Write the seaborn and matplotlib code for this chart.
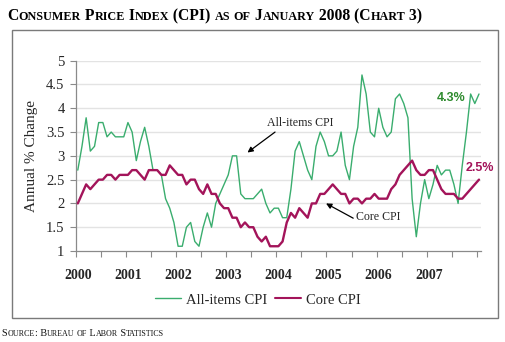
import numpy as np
import pandas as pd
import matplotlib
matplotlib.use("Agg")
import matplotlib.pyplot as plt
from matplotlib.font_manager import FontProperties
from matplotlib.patches import Rectangle
from matplotlib.lines import Line2D
import seaborn as sns

# ---------------- data (monthly, Jan 2000 .. Jan 2008) ----------------
all_items = [
    2.7, 3.2, 3.8, 3.1, 3.2, 3.7, 3.7, 3.4, 3.5, 3.4, 3.4, 3.4,
    3.7, 3.5, 2.9, 3.3, 3.6, 3.2, 2.7, 2.7, 2.6, 2.1, 1.9, 1.6,
    1.1, 1.1, 1.5, 1.6, 1.2, 1.1, 1.5, 1.8, 1.5, 2.0, 2.2, 2.4,
    2.6, 3.0, 3.0, 2.2, 2.1, 2.1, 2.1, 2.2, 2.3, 2.0, 1.8, 1.9,
    1.9, 1.7, 1.7, 2.3, 3.1, 3.3, 3.0, 2.7, 2.5, 3.2, 3.5, 3.3,
    3.0, 3.0, 3.1, 3.5, 2.8, 2.5, 3.2, 3.6, 4.7, 4.3, 3.5, 3.4,
    4.0, 3.6, 3.4, 3.5, 4.2, 4.3, 4.1, 3.8, 2.1, 1.3, 2.0, 2.5,
    2.1, 2.4, 2.8, 2.6, 2.7, 2.7, 2.4, 2.0, 2.8, 3.5, 4.3, 4.1,
    4.3,
]
core = [
    2.0, 2.2, 2.4, 2.3, 2.4, 2.5, 2.5, 2.6, 2.6, 2.5, 2.6, 2.6,
    2.6, 2.7, 2.7, 2.6, 2.5, 2.7, 2.7, 2.7, 2.6, 2.6, 2.8, 2.7,
    2.6, 2.6, 2.4, 2.5, 2.5, 2.3, 2.2, 2.4, 2.2, 2.2, 2.0, 1.9,
    1.9, 1.7, 1.7, 1.5, 1.6, 1.5, 1.5, 1.3, 1.2, 1.3, 1.1, 1.1,
    1.1, 1.2, 1.6, 1.8, 1.7, 1.9, 1.8, 1.7, 2.0, 2.0, 2.2, 2.2,
    2.3, 2.4, 2.3, 2.2, 2.2, 2.0, 2.1, 2.1, 2.0, 2.1, 2.1, 2.2,
    2.1, 2.1, 2.1, 2.3, 2.4, 2.6, 2.7, 2.8, 2.9, 2.7, 2.6, 2.6,
    2.7, 2.7, 2.5, 2.3, 2.2, 2.2, 2.2, 2.1, 2.1, 2.2, 2.3, 2.4,
    2.5,
]
series_names = ["All-items CPI", "Core CPI"]
year_labels = ["2000", "2001", "2002", "2003", "2004", "2005", "2006", "2007"]
y_tick_values = [1, 1.5, 2, 2.5, 3, 3.5, 4, 4.5, 5]
y_tick_labels = ["1", "1.5", "2", "2.5", "3", "3.5", "4", "4.5", "5"]
last_labels = ["4.3%", "2.5%"]

months = pd.date_range("2000-01-01", periods=len(all_items), freq="MS")
idx = np.arange(len(months))
df = pd.DataFrame({
    "pos": np.concatenate([idx, idx]),
    "value": all_items + core,
    "series": [series_names[0]] * len(idx) + [series_names[1]] * len(idx),
})

GREEN = "#3aad6e"
MAROON = "#a3145a"
GRAY = "#8a8a8a"

# ---------------- figure ----------------
sns.set_theme(style="white")
plt.rcParams["font.family"] = ["Liberation Serif", "DejaVu Serif"]

W, H = 505, 342
fig = plt.figure(figsize=(W / 100, H / 100), dpi=100)
fig.patch.set_facecolor("white")

ax_l, ax_r, ax_t, ax_b = 75.7, 480.7, 60.7, 251.0
ax = fig.add_axes([ax_l / W, 1 - ax_b / H, (ax_r - ax_l) / W, (ax_b - ax_t) / H])

sns.lineplot(data=df[df.series == series_names[0]], x="pos", y="value",
             color=GREEN, lw=1.0, ax=ax, legend=False, zorder=3)
sns.lineplot(data=df[df.series == series_names[1]], x="pos", y="value",
             color=MAROON, lw=1.7, ax=ax, legend=False, zorder=4)

ax.set_xlim(-0.48, 96.41)
ax.set_ylim(1, 5)
ax.set_xlabel("")
ax.set_ylabel("Annual % Change", fontsize=11, labelpad=6)

# y axis
ax.set_yticks(y_tick_values)
ax.set_yticklabels(y_tick_labels, fontsize=10.5)
ax.tick_params(axis="y", which="major", length=4, width=0.8, color=GRAY,
               pad=4, direction="out", left=True)
for yv in y_tick_values[1:]:
    ax.axhline(yv, color="#e3e3e3", lw=1.0, zorder=1)

# x axis: half-year tick marks, year labels centred on January
ax.set_xticks(np.arange(-0.5, 96, 6))
ax.set_xticklabels([])
ax.set_xticks(np.arange(0, 12 * len(year_labels), 12), minor=True)
ax.set_xticklabels(year_labels, minor=True, fontsize=10, fontweight="bold")
ax.tick_params(axis="x", which="major", length=4, width=0.8, color=GRAY,
               direction="out", bottom=True)
ax.tick_params(axis="x", which="minor", length=0, pad=13, bottom=True)

for s in ["top", "right"]:
    ax.spines[s].set_visible(False)
for s in ["left", "bottom"]:
    ax.spines[s].set_color(GRAY)
    ax.spines[s].set_linewidth(0.9)
ax.grid(False)

# annotations
ax.text(53.3, 3.70, "All-items CPI", fontsize=8.6, ha="center", va="center")
ax.annotate("", xy=(40.6, 3.07), xytext=(47.2, 3.50),
            arrowprops=dict(arrowstyle="-|>", color="black", lw=0.9,
                            mutation_scale=8, shrinkA=0, shrinkB=0))
ax.text(71.8, 1.71, "Core CPI", fontsize=8.6, ha="center", va="center")
ax.annotate("", xy=(59.4, 2.00), xytext=(65.9, 1.69),
            arrowprops=dict(arrowstyle="-|>", color="black", lw=0.9,
                            mutation_scale=8, shrinkA=0, shrinkB=0))
ax.text(89.3, 4.21, last_labels[0], fontsize=9, fontweight="bold",
        family=["Liberation Sans", "DejaVu Sans"], color="#2e8b2e",
        ha="center", va="center", clip_on=False)
ax.text(96.2, 2.74, last_labels[1], fontsize=9, fontweight="bold",
        family=["Liberation Sans", "DejaVu Sans"], color=MAROON,
        ha="center", va="center", clip_on=False)

# legend
handles = [Line2D([], [], color=GREEN, lw=1.0), Line2D([], [], color=MAROON, lw=1.5)]
fig.legend(handles, series_names, loc="center", bbox_to_anchor=(258 / W, 1 - 300 / H),
           ncol=2, frameon=False, fontsize=10.5, handlelength=1.8,
           handletextpad=0.35, columnspacing=0.5)

# outer frame
fig.patches.append(Rectangle((12.3 / W, 1 - 318 / H), (497.7 - 12.3) / W, (318 - 30) / H,
                             transform=fig.transFigure, fill=False,
                             edgecolor="#7a7a7a", lw=1.0))

# ---------------- small caps helper ----------------
renderer = fig.canvas.get_renderer()


def text_w(s, size, weight):
    fp = FontProperties(family=["Liberation Serif"], size=size, weight=weight)
    w1, _, _ = renderer.get_text_width_height_descent("H" + s + "H", fp, ismath=False)
    w0, _, _ = renderer.get_text_width_height_descent("HH", fp, ismath=False)
    return w1 - w0


def runs_of(s):
    out = []
    for ch in s:
        small = ch.islower()
        c = ch.upper()
        if out and out[-1][1] == small:
            out[-1][0] += c
        else:
            out.append([c, small])
    return out


def layout(s, big, small, weight):
    items = []
    x = 0.0
    for r, is_small in runs_of(s):
        size = small if is_small else big
        items.append((x, r, size))
        x += text_w(r, size, weight)
    return items, x


def smallcaps(s, x_px, base_px, big, small, weight, target_w=None, color="black"):
    items, w = layout(s, big, small, weight)
    if target_w is not None:
        f = target_w / w
        items, w = layout(s, big * f, small * f, weight)
    for x, r, size in items:
        fig.text((x_px + x) / W, 1 - base_px / H, r, fontsize=size,
                 fontweight=weight, va="baseline", ha="left", color=color,
                 family=["Liberation Serif"])


smallcaps("Consumer Price Index (CPI) as of January 2008 (Chart 3)",
          7.5, 20.0, 12.7, 9.8, "bold", target_w=414)
smallcaps("Source: Bureau of Labor Statistics", 1.7, 336.0, 8.0, 6.3,
          "normal", target_w=163, color="#111111")

fig.savefig("out.png", dpi=100, facecolor="white")
